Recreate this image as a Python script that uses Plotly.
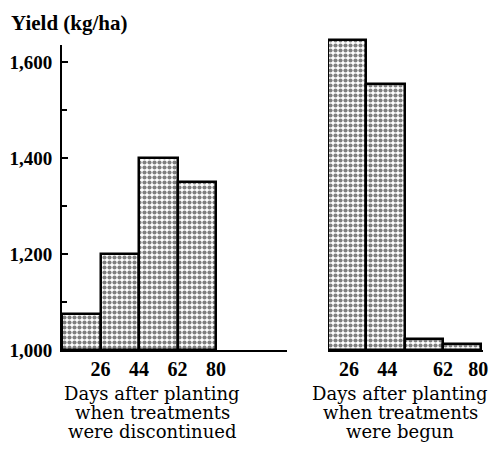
import plotly.graph_objects as go

# Data
left_days = ["26", "44", "62", "80"]
right_days = ["26", "44", "62", "80"]
left_yield = [1075, 1200, 1400, 1350]       # treatments discontinued
right_yield = [1645, 1555, 1023, 1012]      # treatments begun
bar_pos = [0.5, 1.5, 2.5, 3.5]
left_tick_pos = [1, 2, 3, 4]
right_tick_pos = [0.55, 1.55, 3, 3.92]
y_major = [1000, 1200, 1400, 1600]
y_labels = ["1,000", "1,200", "1,400", "1,600"]

W, H = 494, 451
SERIF = "Liberation Serif"
TITLE_SERIF = "DejaVu Serif"

fig = go.Figure()

pattern = dict(shape=".", fgcolor="black", bgcolor="white", size=5, solidity=0.55)

for xa, ya, vals in (("x", "y", left_yield), ("x2", "y2", right_yield)):
    fig.add_trace(go.Bar(x=bar_pos, y=[v - 1000 for v in vals], base=1000, width=1,
                         marker=dict(color="white", pattern=pattern,
                                     line=dict(color="black", width=2.5)),
                         xaxis=xa, yaxis=ya, showlegend=False, hoverinfo="skip"))

base_px = 350          # baseline y in px
top_px = 33            # plot-area top in px
mt, mb = top_px, H - base_px
plot_h = base_px - top_px
px_per_unit = 96 / 200

left_top_px = 45
left_dom_top = (base_px - left_top_px) / plot_h
left_range_top = 1000 + (base_px - left_top_px) / px_per_unit
right_range_top = 1000 + plot_h / px_per_unit

xl0, xl1 = 62, 287
xr0, xr1 = 328, 483
bw_l = 38.5
bw_r = 38.3

ytickfont = dict(family=SERIF, size=19, color="black")
xtickfont = dict(family=SERIF, size=20, color="black")
bold = lambda s: f"<b>{s}</b>"

fig.update_layout(
    width=W, height=H,
    margin=dict(l=0, r=0, t=mt, b=mb, autoexpand=False),
    paper_bgcolor="white", plot_bgcolor="white",
    bargap=0,
    xaxis=dict(domain=[xl0 / W, xl1 / W], range=[0, (xl1 - xl0) / bw_l],
               tickvals=left_tick_pos, ticktext=[bold(t) for t in left_days], ticks="",
               showgrid=False, zeroline=False, showline=True, linecolor="black",
               linewidth=2, tickfont=xtickfont, anchor="y", automargin=False,
               ticklabeloverflow="allow"),
    yaxis=dict(domain=[0, left_dom_top], range=[1000, left_range_top],
               tickvals=y_major, ticktext=[bold(t) for t in y_labels],
               ticks="inside", ticklen=6, tickwidth=1.5, tickcolor="black",
               ticklabelstandoff=4,
               minor=dict(tickvals=[1100, 1300, 1500], ticks="inside", ticklen=5,
                          tickwidth=1.5, tickcolor="black"),
               showgrid=False, zeroline=False, showline=True, linecolor="black",
               linewidth=2, tickfont=ytickfont, anchor="x", automargin=False),
    xaxis2=dict(domain=[xr0 / W, xr1 / W], range=[0, (xr1 - xr0) / bw_r],
                tickvals=right_tick_pos, ticktext=[bold(t) for t in right_days], ticks="",
                showgrid=False, zeroline=False, showline=True, linecolor="black",
                linewidth=2, tickfont=xtickfont, anchor="y2", automargin=False,
                ticklabeloverflow="allow"),
    yaxis2=dict(domain=[0, 1], range=[1000, right_range_top],
                showticklabels=False, ticks="", showgrid=False, zeroline=False,
                showline=False, anchor="x2", automargin=False),
)

fig.add_annotation(text="<b>Yield (kg/ha)</b>", xref="paper", yref="paper",
                   x=9 / W, y=(base_px - 23) / plot_h,
                   xanchor="left", yanchor="middle",
                   showarrow=False, font=dict(family=SERIF, size=21, color="black"))

title_font = dict(family=TITLE_SERIF, size=18, color="black")
line_centers = [393, 412, 431]
titles = [
    (152, ["Days after planting", "when treatments", "were discontinued"]),
    (400, ["Days after planting", "when treatments", "were begun"]),
]
for cx, lines in titles:
    for cy, line in zip(line_centers, lines):
        fig.add_annotation(text=line, xref="paper", yref="paper",
                           x=cx / W, y=(base_px - cy) / plot_h,
                           xanchor="center", yanchor="middle", showarrow=False,
                           font=title_font)

fig.write_html(
    "out.html",
    config={"displayModeBar": False},
    post_script="document.body.style.margin='0';document.body.style.overflow='hidden';",
)
